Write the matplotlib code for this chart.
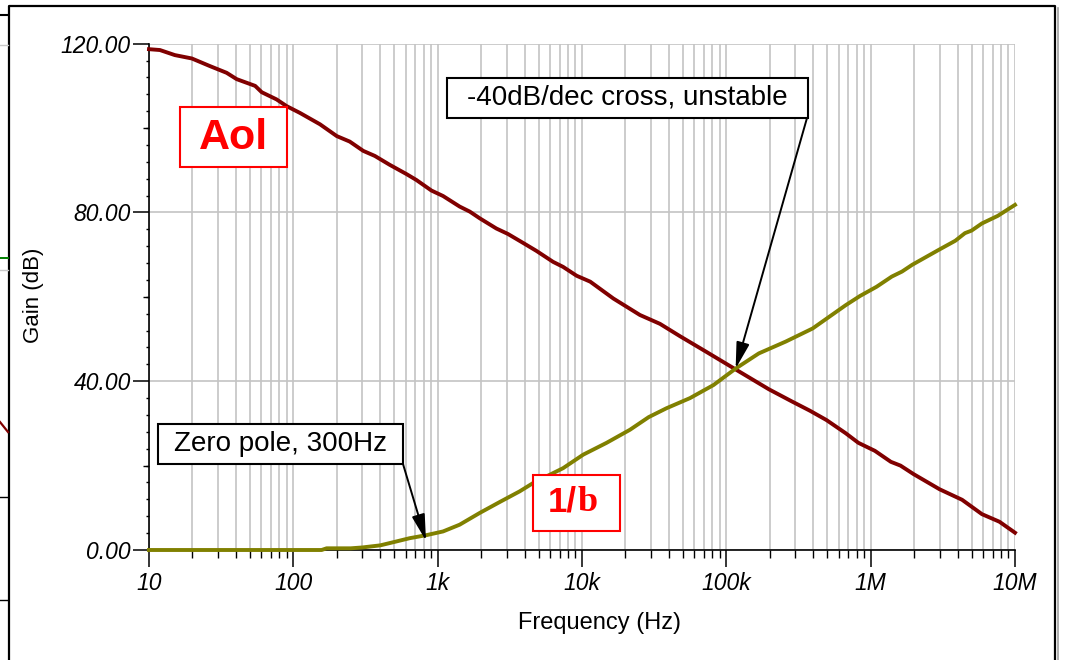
import matplotlib
matplotlib.use('Agg')
import matplotlib.pyplot as plt
from matplotlib.lines import Line2D
from matplotlib.patches import Rectangle
from matplotlib.ticker import FixedLocator, FixedFormatter, MultipleLocator, NullFormatter, LogLocator

plt.rcParams['font.family'] = ['Liberation Sans', 'DejaVu Sans']

# open loop gain
aol_freq = [10, 11.9, 15.1, 19.8, 26.4, 34.5, 40.5, 54.4, 60.4, 76.5, 89.9, 111, 153, 200, 246,
            305, 367, 465, 608, 712, 905, 1.09e3, 1.42e3, 1.67e3, 1.96e3, 2.55e3, 3.07e3, 3.9e3,
            4.83e3, 6.3e3, 7.4e3, 9.18e3, 11.4e3, 16.5e3, 25.2e3, 34.7e3, 47.6e3, 72.4e3, 116e3,
            197e3, 285e3, 380e3, 494e3, 670e3, 822e3, 1.07e6, 1.38e6, 1.61e6, 1.98e6, 3.0e6,
            4.3e6, 5.9e6, 7.8e6, 10e6]
aol_db = [118.7, 118.5, 117.3, 116.5, 114.7, 113.1, 111.6, 110.0, 108.5, 106.8, 105.2, 103.6, 100.9,
          98.1, 96.8, 94.6, 93.4, 91.3, 89.1, 87.7, 85.2, 83.9, 81.4, 80.2, 78.6, 76.2, 74.9, 72.8,
          70.9, 68.3, 67.1, 65.0, 63.6, 59.6, 55.7, 53.6, 50.7, 47.0, 42.8, 38.1, 35.2, 33.0, 30.8,
          27.7, 25.4, 23.5, 20.9, 20.0, 18.0, 14.4, 11.9, 8.5, 6.7, 4.1]

# 1/beta
beta_freq = [10, 100, 157, 170, 250, 300, 400, 500, 640, 830, 1.09e3, 1.42e3, 1.96e3, 2.7e3, 3.7e3,
             4.6e3, 7.4e3, 10.2e3, 14.8e3, 21.5e3, 29e3, 38.5e3, 56e3, 81.5e3, 116e3, 168e3, 258e3,
             396e3, 670e3, 843e3, 1.1e6, 1.4e6, 1.65e6, 1.94e6, 2.95e6, 3.86e6, 4.5e6, 5.0e6, 5.9e6,
             7.6e6, 10e6]
beta_db = [0, 0, 0, 0.4, 0.4, 0.6, 1.1, 1.9, 2.8, 3.5, 4.4, 6.0, 8.8, 11.4, 13.9, 15.9, 19.4, 22.6,
           25.4, 28.5, 31.5, 33.6, 36.0, 39.1, 43.0, 46.6, 49.4, 52.5, 58.0, 60.2, 62.4, 64.8, 66.0,
           67.6, 71.1, 73.3, 75.1, 75.7, 77.4, 79.2, 81.8]

x_ticks = [10, 100, 1e3, 1e4, 1e5, 1e6, 1e7]
x_labels = ['10', '100', '1k', '10k', '100k', '1M', '10M']
y_ticks = [0, 40, 80, 120]
y_labels = ['0.00', '40.00', '80.00', '120.00']

W, H = 1065, 660


def px(x, y):
    # pixel position -> figure fraction
    return x / W, 1 - y / H


fig = plt.figure(figsize=(W / 100, H / 100), dpi=100)
ax = fig.add_axes([149 / W, 1 - 550 / H, (1015 - 149) / W, (550 - 43.7) / H])

ax.plot(aol_freq, aol_db, color='#800000', lw=2.8, clip_on=False, zorder=3)
ax.plot(beta_freq, beta_db, color='#808000', lw=2.8, clip_on=False, zorder=3)

ax.set_xscale('log')
ax.set_xlim(10, 1e7)
ax.set_ylim(0, 120)

ax.xaxis.set_major_locator(FixedLocator(x_ticks))
ax.xaxis.set_major_formatter(FixedFormatter(x_labels))
ax.xaxis.set_minor_locator(LogLocator(base=10, subs=range(2, 10)))
ax.xaxis.set_minor_formatter(NullFormatter())
ax.yaxis.set_major_locator(FixedLocator(y_ticks))
ax.yaxis.set_major_formatter(FixedFormatter(y_labels))
ax.yaxis.set_minor_locator(MultipleLocator(4))

ax.grid(True, which='both', axis='x', color='#c4c4c4', lw=1.2)
ax.grid(True, which='major', axis='y', color='#c4c4c4', lw=1.2)
ax.set_axisbelow(True)

for s in ['top', 'right']:
    ax.spines[s].set_visible(False)
for s in ['left', 'bottom']:
    ax.spines[s].set_linewidth(1.2)

ax.tick_params(axis='x', which='major', length=12, width=1.1, pad=4, labelsize=16.5)
ax.tick_params(axis='x', which='minor', length=6, width=1.0)
ax.tick_params(axis='y', which='major', length=11.5, width=1.1, pad=1.5, labelsize=16.5)
ax.tick_params(axis='y', which='minor', length=2.2, width=1.0)
for lab in ax.get_xticklabels() + ax.get_yticklabels():
    lab.set_fontstyle('italic')

# medium ticks at 20, 60, 100
sec = ax.secondary_yaxis('left')
sec.yaxis.set_major_locator(FixedLocator([20, 60, 100]))
sec.yaxis.set_major_formatter(NullFormatter())
sec.tick_params(length=4.5, width=1.0)
sec.spines['left'].set_visible(False)

fig.text(*px(33, 295), 'Gain (dB)', rotation=90, ha='center', va='center', fontsize=16)
fig.text(*px(600, 623), 'Frequency (Hz)', ha='center', va='center', fontsize=17)

# label boxes
def box(x0, y0, x1, y1, color):
    fx0, fy1 = px(x0, y0)
    fx1, fy0 = px(x1, y1)
    fig.add_artist(Rectangle((fx0, fy0), fx1 - fx0, fy1 - fy0, transform=fig.transFigure,
                             facecolor='white', edgecolor=color, lw=1.5, zorder=5))

box(180, 107, 287, 167, '#ff0000')
fig.text(*px(233.5, 138), 'Aol', color='#ff0000', fontsize=31, fontweight='bold',
         ha='center', va='center', zorder=6)

box(533, 475, 620, 531, '#ff0000')
fig.text(*px(577, 511), '1/', color='#ff0000', fontsize=25, fontweight='bold',
         ha='right', va='baseline', zorder=6)
fig.text(*px(578, 511), 'b', color='#ff0000', fontsize=26, fontweight='bold',
         family=['Liberation Serif', 'DejaVu Serif'], ha='left', va='baseline', zorder=6)

box(447, 78, 808, 118, 'black')
fig.text(*px(627.5, 98), '-40dB/dec cross, unstable', fontsize=20, ha='center', va='center', zorder=6)

box(158, 424, 403, 464, 'black')
fig.text(*px(280.5, 444), 'Zero pole, 300Hz', fontsize=20, ha='center', va='center', zorder=6)

arrow = dict(arrowstyle='-|>,head_length=1.6,head_width=0.4', mutation_scale=10,
             color='black', lw=1.4, shrinkA=0, shrinkB=0)
ax.annotate('', xy=(116e3, 43), xycoords='data', xytext=px(807, 118),
            textcoords='figure fraction', arrowprops=arrow, zorder=6)
ax.annotate('', xy=(830, 2.2), xycoords='data', xytext=px(403, 464),
            textcoords='figure fraction', arrowprops=arrow, zorder=6)

# window frame and bits of the window behind it
def fline(xs, ys, color='black', lw=1.5):
    pts = [px(x, y) for x, y in zip(xs, ys)]
    fig.add_artist(Line2D([p[0] for p in pts], [p[1] for p in pts], transform=fig.transFigure,
                          color=color, lw=lw))

fline([9, 9, 1055, 1055], [660, 6, 6, 660], lw=1.6)
fline([1058, 1058], [8, 660], color='#a0a0a0', lw=1.2)
fline([0, 8], [15, 15])
fline([0, 8], [45, 45], color='#c8c8c8', lw=1.0)
fline([0, 8], [258, 258], color='#008000', lw=1.4)
fline([0, 8], [270, 270], color='#c8c8c8', lw=1.0)
fline([0, 8], [422, 432], color='#800000', lw=1.6)
fline([0, 8], [497, 497], lw=1.0)
fline([0, 8], [600, 600], lw=1.0)

fig.savefig('out.png', dpi=100)
